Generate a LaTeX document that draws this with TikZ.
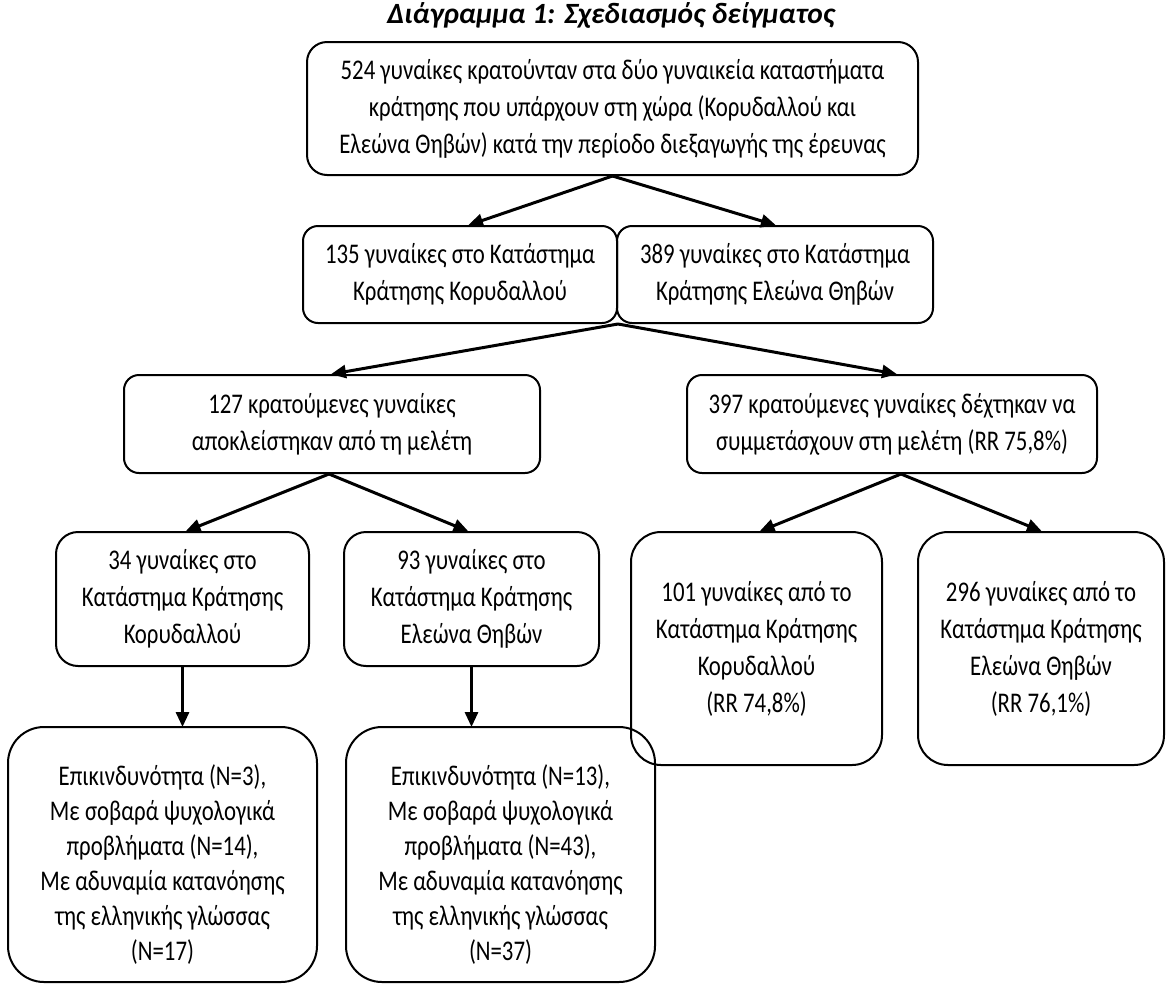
\documentclass[tikz,border=0pt]{standalone}
\usepackage{fontspec}
\setmainfont{Carlito}
\newfontfamily\boxfont{Carlito}[FakeStretch=0.8]
\usetikzlibrary{arrows.meta}
\tikzset{
  box/.style={draw=black, line width=2pt, rounded corners=#1, align=center, inner sep=0pt,
    font=\boxfont\fontsize{28.5}{37}\selectfont},
  box/.default=15pt,
  conn/.style={line width=3pt, -{Triangle[length=15pt,width=13pt]}, shorten >=-1pt},
}
\begin{document}
\begin{tikzpicture}[x=1pt,y=-1pt]
\useasboundingbox (0,0) rectangle (1166,983);
\node[font=\fontsize{29.4}{34}\selectfont\bfseries\itshape] (title) at (611,15) {Διάγραμμα 1: Σχεδιασμός δείγματος};
\node[box=20pt, minimum width=611pt, minimum height=133pt] (a) at (612.5,108.5)
  {524 γυναίκες κρατούνταν στα δύο γυναικεία καταστήματα\\κράτησης που υπάρχουν στη χώρα (Κορυδαλλού και\\Ελεώνα Θηβών) κατά την περίοδο διεξαγωγής της έρευνας};
\node[box, minimum width=314pt, minimum height=97pt] (b1) at (460,274.5)
  {135 γυναίκες στο Κατάστημα\\Κράτησης Κορυδαλλού};
\node[box, minimum width=316pt, minimum height=97pt] (b2) at (775,274.5)
  {389 γυναίκες στο Κατάστημα\\Κράτησης Ελεώνα Θηβών};
\node[box, minimum width=416pt, minimum height=98pt] (c1) at (332,424)
  {127 κρατούμενες γυναίκες\\αποκλείστηκαν από τη μελέτη};
\node[box, minimum width=410pt, minimum height=98pt] (c2) at (892,424)
  {397 κρατούμενες γυναίκες δέχτηκαν να\\συμμετάσχουν στη μελέτη (RR 75,8\%)};
\node[box=22pt, minimum width=253pt, minimum height=134pt] (d1) at (182.5,599)
  {34 γυναίκες στο\\Κατάστημα Κράτησης\\Κορυδαλλού};
\node[box=22pt, minimum width=255pt, minimum height=134pt] (d2) at (471.5,599)
  {93 γυναίκες στο\\Κατάστημα Κράτησης\\Ελεώνα Θηβών};
\node[box=30pt, minimum width=251pt, minimum height=233pt] (d3) at (756.5,648.5)
  {101 γυναίκες από το\\Κατάστημα Κράτησης\\Κορυδαλλού\\(RR 74,8\%)};
\node[box=30pt, minimum width=246pt, minimum height=233pt] (d4) at (1041,648.5)
  {296 γυναίκες από το\\Κατάστημα Κράτησης\\Ελεώνα Θηβών\\(RR 76,1\%)};
\node[box=36pt, minimum width=309pt, minimum height=255pt, font=\boxfont\fontsize{28.5}{35}\selectfont] (e1) at (162.5,854.5)
  {\rule{0pt}{40pt}Επικινδυνότητα (N=3),\\Με σοβαρά ψυχολογικά\\προβλήματα (N=14),\\Με αδυναμία κατανόησης\\της ελληνικής γλώσσας\\(N=17)};
\node[box=36pt, minimum width=309pt, minimum height=255pt, font=\boxfont\fontsize{28.5}{35}\selectfont] (e2) at (500.5,854.5)
  {\rule{0pt}{40pt}Επικινδυνότητα (N=13),\\Με σοβαρά ψυχολογικά\\προβλήματα (N=43),\\Με αδυναμία κατανόησης\\της ελληνικής γλώσσας\\(N=37)};
\draw[conn] (a.south) -- ([xshift=9pt]b1.north);
\draw[conn] (a.south) -- (b2.north);
\draw[conn] (b1.south east) -- (c1.north);
\draw[conn] (b1.south east) -- ([xshift=4pt]c2.north);
\draw[conn] ([xshift=-3pt]c1.south) -- ([xshift=4pt]d1.north);
\draw[conn] ([xshift=-3pt]c1.south) -- ([xshift=-4pt]d2.north);
\draw[conn] ([xshift=9pt]c2.south) -- ([xshift=4pt]d3.north);
\draw[conn] ([xshift=9pt]c2.south) -- (d4.north);
\draw[conn] (d1.south) -- (d1.south |- e1.north);
\draw[conn] (d2.south) -- (d2.south |- e2.north);
\end{tikzpicture}
\end{document}
